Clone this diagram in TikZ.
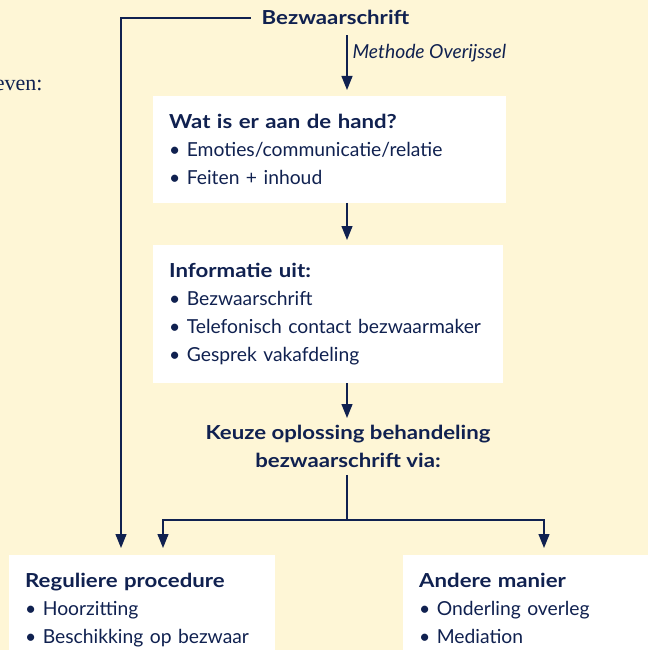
\documentclass[tikz,border=0pt]{standalone}
\usepackage{fontspec}
\setmainfont{Lato}[BoldFeatures={FakeStretch=1.15}]
\newfontfamily\pagefont{Liberation Serif}
\usetikzlibrary{arrows.meta}

\definecolor{navy}{RGB}{16,33,80}
\definecolor{cream}{RGB}{254,246,214}

\begin{document}
\begin{tikzpicture}[x=1pt,y=-1pt,
  every node/.style={text=navy},
  box/.style={rectangle,fill=white,anchor=north west,align=left,
    inner xsep=16pt,inner ysep=18pt,font=\fontsize{19.3}{28}\selectfont},
  wire/.style={draw=navy,line width=1.2pt},
  arr/.style={wire,-{Triangle[width=11pt,length=14pt]}}]
  \fill[cream] (0,0) rectangle (648,650);
  \useasboundingbox (0,0) rectangle (648,650);

  \node at (46,91) (pagetext) [anchor=base east,font=\pagefont\fontsize{22}{28}\selectfont] {even:};
  \node at (335.5,25) (bezw) [anchor=base,inner xsep=11pt,inner ysep=10pt,
    font=\bfseries\fontsize{19.3}{28}\selectfont] {Bezwaarschrift};
  \node at (153,96) (wat) [box,text width=321pt]
    {\textbf{Wat is er aan de hand?}\\
     • Emoties/communicatie/relatie\\
     • Feiten + inhoud};
  \node at (153,245) (info) [box,text width=318pt]
    {\textbf{Informatie uit:}\\
     • Bezwaarschrift\\
     • Telefonisch contact bezwaarmaker\\
     • Gesprek vakafdeling};
  \node at (348,418) (keuze) [anchor=north,align=center,inner sep=7pt,
    font=\bfseries\fontsize{19.3}{28}\selectfont]
    {Keuze oplossing behandeling\\bezwaarschrift via:};
  \node at (9,555) (regulier) [box,text width=234pt]
    {\textbf{Reguliere procedure}\\
     • Hoorzitting\\
     • Beschikking op bezwaar};
  \node at (403,555) (anders) [box,text width=240pt]
    {\textbf{Andere manier}\\
     • Onderling overleg\\
     • Mediation};

  \coordinate (spine) at (347,0);
  \coordinate (fork) at (347,520);
  \coordinate (leftin) at (121,548);
  \coordinate (regin) at (163,548);
  \coordinate (andin) at (544,548);

  \draw[arr] (bezw.west) -| (leftin);
  \draw[arr,shorten >=6pt] (bezw.south -| spine) -- node[pos=0.3,right,inner sep=5pt,
    font=\itshape\fontsize{19.3}{22}\selectfont] {Methode Overijssel} (wat.north -| spine);
  \draw[arr,shorten >=5pt] (wat.south -| spine) -- (info.north -| spine);
  \draw[arr] (info.south -| spine) -- (keuze.north -| spine);
  \draw[wire] (keuze.south -| spine) -- (fork);
  \draw[arr] (fork) -| (regin);
  \draw[arr] (fork) -| (andin);
\end{tikzpicture}
\end{document}
